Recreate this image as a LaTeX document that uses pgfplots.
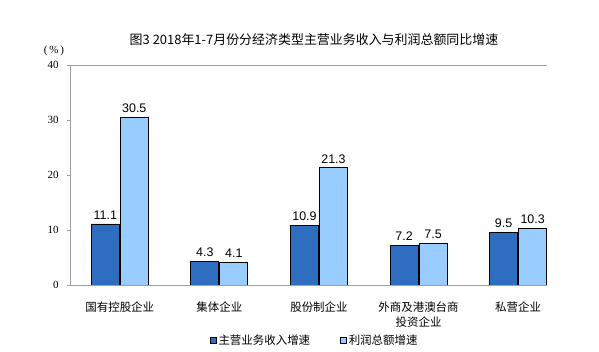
\documentclass[border=0pt]{standalone}
\usepackage{fontspec}
\setmainfont{Liberation Sans}
\newfontfamily\cjk{Noto Sans CJK SC}
\newfontfamily\serif{Liberation Serif}
\usepackage{pgfplots}
\pgfplotsset{compat=1.18}
\usetikzlibrary{calc}
\definecolor{darkb}{HTML}{2E6DBF}
\definecolor{lightb}{HTML}{99CCFF}
\definecolor{axgray}{HTML}{A0A0A0}
\begin{document}
\begin{tikzpicture}[x=1bp,y=1bp]
\begin{axis}[
  scale only axis,
  width=477bp, height=220bp,
  ybar, bar width=28bp,
  ymin=0, ymax=40, xmin=-0.5, xmax=4.29,
  ytick={0,10,20,30,40},
  xtick=data,
  xticklabels={国有控股企业,集体企业,股份制企业,{外商及港澳台商\\投资企业},私营企业},
  axis line style={draw=none},
  ytick pos=left, tick align=outside, major tick length=3bp,
  ytick style={draw=axgray, line width=0.8pt},
  xtick style={draw=none},
  /pgf/number format/assume math mode=true,
  yticklabel style={font=\serif\fontsize{11}{13}\selectfont, xshift=-5bp},
  xticklabel style={font=\cjk\fontsize{11.5}{15}\selectfont, align=center, yshift=-10bp},
  nodes near coords,
  every node near coord/.append style={font=\fontsize{12.5}{14}\selectfont, black, yshift=1bp},
  clip=false,
  legend style={at={(0.513,-0.25)}, anchor=center, draw=none, fill=none,
    font=\cjk\fontsize{11.5}{14}\selectfont, legend columns=2,
    /tikz/every even column/.append style={column sep=28bp}},
  legend image code/.code={\draw[#1, line width=0.6pt] (0bp,-3bp) rectangle (6bp,3bp);},
]
\addplot[fill=darkb, draw=black, line width=0.8pt, bar shift=-14.5bp] coordinates {(0,11.1) (1,4.3) (2,10.9) (3,7.2) (4,9.5)};
\addplot[fill=lightb, draw=black, line width=0.8pt, bar shift=14.5bp] coordinates {(0,30.5) (1,4.1) (2,21.3) (3,7.5) (4,10.3)};
\legend{主营业务收入增速,利润总额增速}
\draw[axgray, line width=0.9pt] (rel axis cs:0,0) -- (rel axis cs:1,0);
\draw[axgray, line width=0.9pt] (rel axis cs:0,0) -- (rel axis cs:0,1) -- (rel axis cs:1,1);
\coordinate (O) at (rel axis cs:0,0);
\end{axis}
\pgfresetboundingbox
\path[use as bounding box] ($(O)+(-70,-66)$) rectangle ++(599,351);
\node[font=\cjk\fontsize{13}{15}\selectfont] at ($(O)+(244,245)$) {图3 2018年1-7月份分经济类型主营业务收入与利润总额同比增速};
\node[font=\serif\fontsize{11}{12}\selectfont] at ($(O)+(-16,234)$) {(\,\%\,)};
\end{tikzpicture}
\end{document}
